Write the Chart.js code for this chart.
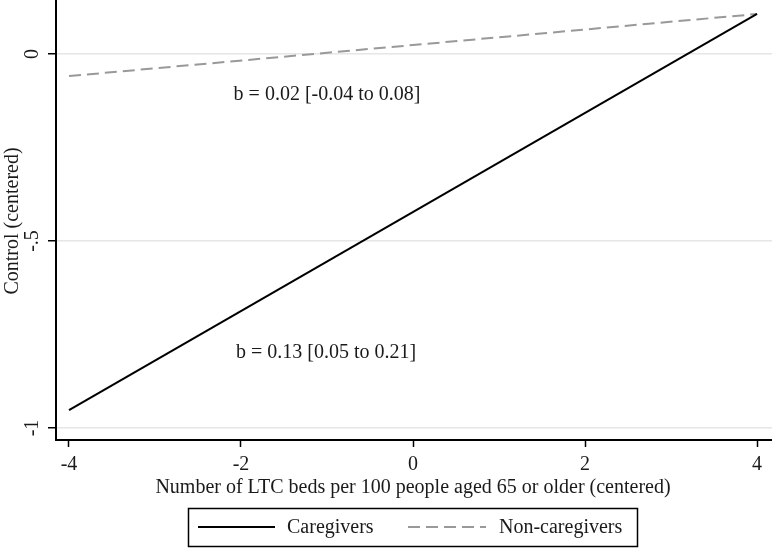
<!DOCTYPE html>
<html><head><meta charset="utf-8">
<script src="https://cdn.jsdelivr.net/npm/chart.js@4.4.0/dist/chart.umd.min.js"></script>
<style>html,body{margin:0;padding:0;background:#fff}</style>
</head><body>
<canvas id="c" width="772" height="548"></canvas>
<script>
const xValues = [-4, 4];
const caregivers = [-0.952, 0.107];
const nonCaregivers = [-0.059, 0.107];
const xTicks = [-4, -2, 0, 2, 4];
const yTicks = [0, -0.5, -1];
const yTickLabels = ['0', '-.5', '-1'];
const seriesNames = ['Caregivers', 'Non-caregivers'];
const annotations = [
  {text: 'b = 0.02 [-0.04 to 0.08]', x: -1.0, y: -0.11},
  {text: 'b = 0.13 [0.05 to 0.21]', x: -1.01, y: -0.80}
];
const xTitle = 'Number of LTC beds per 100 people aged 65 or older (centered)';
const yTitle = 'Control (centered)';

const FONT = '"Liberation Serif", "Times New Roman", serif';

const custom = {
  id: 'custom',
  afterDraw(chart) {
    const ctx = chart.ctx;
    const xs = chart.scales.x, ys = chart.scales.y;
    ctx.save();
    ctx.fillStyle = '#1a1a1a';
    ctx.font = '20px ' + FONT;
    ctx.textAlign = 'center';
    ctx.textBaseline = 'middle';
    yTicks.forEach((v, i) => {
      const py = ys.getPixelForValue(v);
      ctx.save();
      ctx.translate(33, py);
      ctx.rotate(-Math.PI / 2);
      ctx.fillText(yTickLabels[i], 0, 0);
      ctx.restore();
    });
    ctx.save();
    ctx.translate(13, 221);
    ctx.rotate(-Math.PI / 2);
    ctx.fillText(yTitle, 0, 0);
    ctx.restore();
    xTicks.forEach(v => {
      ctx.fillText(String(v), xs.getPixelForValue(v), 465);
    });
    ctx.fillText(xTitle, 413, 488);
    annotations.forEach(a => {
      ctx.fillText(a.text, xs.getPixelForValue(a.x), ys.getPixelForValue(a.y));
    });
    ctx.strokeStyle = '#000';
    ctx.lineWidth = 1.5;
    ctx.strokeRect(188.5, 508.5, 449, 38);
    const ds = chart.data.datasets;
    const items = [{x0: 198, x1: 275, tx: 287}, {x0: 408, x1: 486, tx: 499}];
    items.forEach((it, i) => {
      const d = ds[i];
      ctx.save();
      ctx.strokeStyle = d.borderColor;
      ctx.lineWidth = d.borderWidth;
      ctx.setLineDash(d.borderDash || []);
      ctx.beginPath();
      ctx.moveTo(it.x0, 527);
      ctx.lineTo(it.x1, 527);
      ctx.stroke();
      ctx.restore();
      ctx.textAlign = 'left';
      ctx.fillText(seriesNames[i], it.tx, 528);
    });
    ctx.restore();
  }
};

new Chart(document.getElementById('c'), {
  type: 'line',
  data: {
    datasets: [
      {label: seriesNames[0], data: xValues.map((x, i) => ({x, y: caregivers[i]})),
       borderColor: '#000', borderWidth: 2, pointRadius: 0, fill: false},
      {label: seriesNames[1], data: xValues.map((x, i) => ({x, y: nonCaregivers[i]})),
       borderColor: '#999', borderWidth: 2, borderDash: [12, 6], pointRadius: 0, fill: false}
    ]
  },
  options: {
    responsive: false,
    animation: false,
    layout: {padding: 0},
    plugins: {legend: {display: false}, tooltip: {enabled: false}},
    scales: {
      x: {
        type: 'linear', min: -4.151, max: 4.174,
        afterBuildTicks: s => { s.ticks = xTicks.map(v => ({value: v})); },
        afterFit: s => { s.height = 108; },
        ticks: {display: false},
        grid: {drawOnChartArea: false, drawTicks: true, tickLength: 7, tickColor: '#000', tickWidth: 1.5},
        border: {color: '#000', width: 2}
      },
      y: {
        type: 'linear', min: -1.032, max: 0.1444,
        afterBuildTicks: s => { s.ticks = yTicks.map(v => ({value: v})); },
        afterFit: s => { s.width = 56; },
        ticks: {display: false},
        grid: {color: '#e6e6e6', lineWidth: 1.5, drawTicks: true, tickLength: 8, tickColor: '#000', tickWidth: 1.5},
        border: {color: '#000', width: 2}
      }
    }
  },
  plugins: [custom]
});
</script>
</body></html>
